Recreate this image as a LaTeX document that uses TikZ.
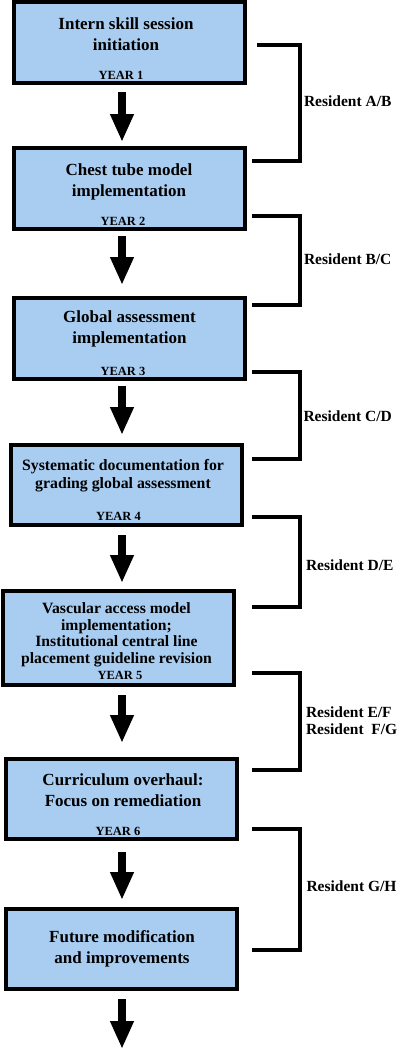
\documentclass[tikz,border=0pt]{standalone}
\usepackage{fontspec}
\setmainfont{Liberation Serif}
\usetikzlibrary{arrows.meta}
\definecolor{boxblue}{RGB}{169,205,241}
\newcommand\mylines[1]{\begin{tabular}[t]{@{}c@{}}#1\end{tabular}}
\newcommand\myleft[1]{\begin{tabular}[t]{@{}l@{}}#1\end{tabular}}
\tikzset{
  box/.style={draw, fill=boxblue, line width=4pt, inner sep=0pt, outer sep=0pt, rectangle, minimum width=231pt},
  txt/.style={anchor=base, inner sep=0pt, outer sep=0pt, font=\fontsize{17}{21}\selectfont\bfseries},
  yr/.style={anchor=base, inner sep=0pt, outer sep=0pt, font=\fontsize{12.5}{14}\selectfont\bfseries},
  lab/.style={anchor=base west, inner sep=0pt, outer sep=0pt, font=\fontsize{15.5}{16.7}\selectfont\bfseries},
  flowarrow/.style={line width=7.5pt, -{Triangle[width=22pt,length=28pt]}},
  bracket/.style={line width=4pt, line join=miter, line cap=butt}
}
\begin{document}
\begin{tikzpicture}[x=1pt,y=-1pt]
\useasboundingbox (0,0) rectangle (402,1050);
% boxes
\node[box, minimum height=81pt] (b1) at (129.5,42.5) {};
\node[box, minimum height=81pt] (b2) at (129.5,188.5) {};
\node[box, minimum height=81pt] (b3) at (129.5,338.5) {};
\node[box, minimum height=80pt] (b4) at (126.5,485) {};
\node[box, minimum height=94pt] (b5) at (118.5,638) {};
\node[box, minimum height=80pt] (b6) at (121.5,799) {};
\node[box, minimum height=80pt] (b7) at (121.5,949) {};
% box texts
\node[txt] (t1) at (126,29) {\mylines{Intern skill session\\initiation}};
\node[yr] (y1) at (121,79) {YEAR 1};
\node[txt] (t2) at (129,175) {\mylines{Chest tube model\\implementation}};
\node[yr] (y2) at (123,225) {YEAR 2};
\node[txt] (t3) at (129.5,322) {\mylines{Global assessment\\implementation}};
\node[yr] (y3) at (123,375) {YEAR 3};
\node[txt, font=\fontsize{15.8}{17.5}\selectfont\bfseries] (t4) at (123,470.7) {\mylines{Systematic documentation for\\grading global assessment}};
\node[yr] (y4) at (118.5,520) {YEAR 4};
\node[txt, font=\fontsize{15.7}{16.7}\selectfont\bfseries] (t5) at (116.5,613.3) {\mylines{Vascular access model\\implementation;\\Institutional central line\\placement guideline revision}};
\node[yr] (y5) at (120,679) {YEAR 5};
\node[txt, font=\fontsize{17}{21.7}\selectfont\bfseries] (t6) at (123,785) {\mylines{Curriculum overhaul:\\Focus on remediation}};
\node[yr] (y6) at (118,835) {YEAR 6};
\node[txt] (t7) at (122,942.3) {\mylines{Future modification\\and improvements}};
% arrows
\coordinate (ax) at (122,0);
\coordinate (endpt) at (122,1049);
\draw[flowarrow, shorten <=9pt, shorten >=6pt] (b1.south -| ax) -- (b2.north -| ax);
\draw[flowarrow, shorten <=7pt, shorten >=13pt] (b2.south -| ax) -- (b3.north -| ax);
\draw[flowarrow, shorten <=7pt, shorten >=10pt] (b3.south -| ax) -- (b4.north -| ax);
\draw[flowarrow, shorten <=10pt, shorten >=8pt] (b4.south -| ax) -- (b5.north -| ax);
\draw[flowarrow, shorten <=10pt, shorten >=16pt] (b5.south -| ax) -- (b6.north -| ax);
\draw[flowarrow, shorten <=13pt, shorten >=9pt] (b6.south -| ax) -- (b7.north -| ax);
\draw[flowarrow, shorten <=10pt] (b7.south -| ax) -- (endpt);
% brackets
\coordinate (kx) at (300,0);
\coordinate (k1a) at (257,45);    \coordinate (k1b) at (252,161.3);
\coordinate (k2a) at (252,216);   \coordinate (k2b) at (252,304.7);
\coordinate (k3a) at (252,372);   \coordinate (k3b) at (252,458.7);
\coordinate (k4a) at (252,517);   \coordinate (k4b) at (252,607);
\coordinate (k5a) at (252,672.7); \coordinate (k5b) at (252,770.3);
\coordinate (k6a) at (252,829.3); \coordinate (k6b) at (252,950.3);
\foreach \k in {1,...,6}{
  \draw[bracket] (k\k a) -- (k\k a -| kx) -- (k\k b -| kx) -- (k\k b);
}
% labels
\node[lab] (l1) at (304,106) {Resident A/B};
\node[lab] (l2) at (304,264.3) {Resident B/C};
\node[lab] (l3) at (303.5,421.7) {Resident C/D};
\node[lab] (l4) at (306,570) {Resident D/E};
\node[lab] (l5) at (306,717.3) {\myleft{Resident E/F\\Resident\ \ F/G}};
\node[lab] (l6) at (306.5,891.7) {Resident G/H};
\end{tikzpicture}
\end{document}
